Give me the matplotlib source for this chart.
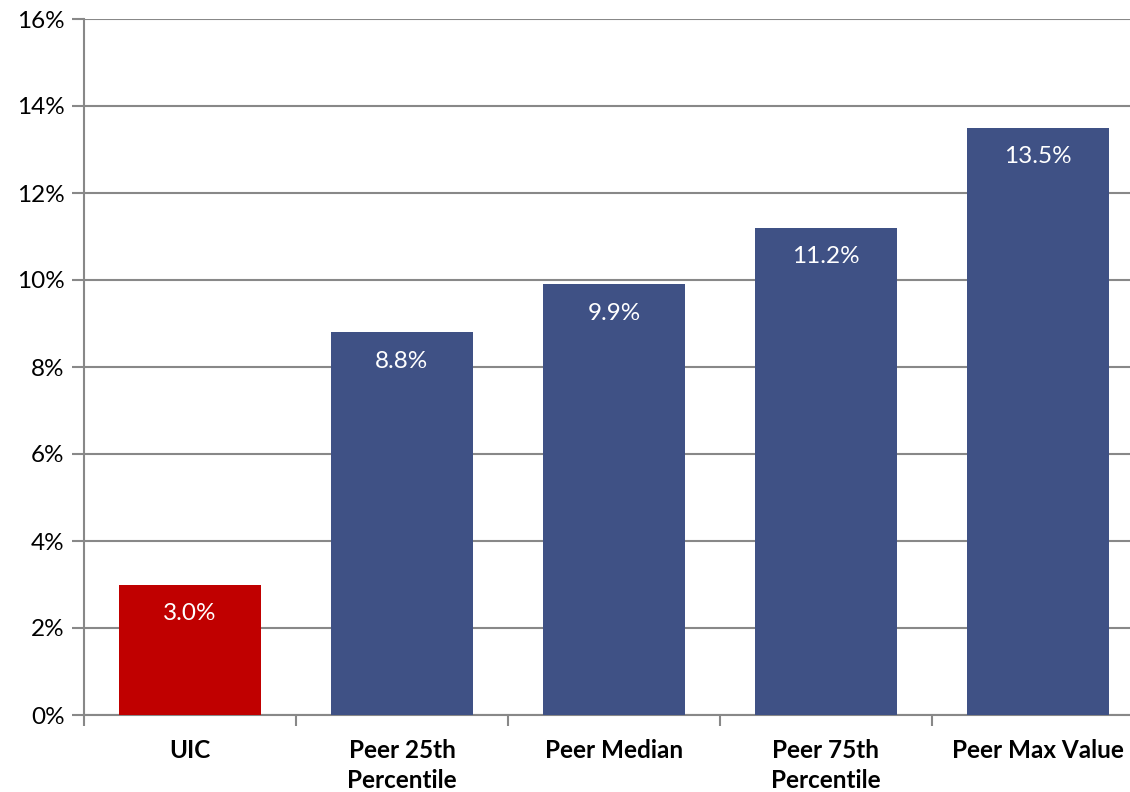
import matplotlib
matplotlib.use("Agg")
import matplotlib.pyplot as plt
from matplotlib.ticker import FixedLocator, FuncFormatter

categories = ["UIC", "Peer 25th\nPercentile", "Peer Median", "Peer 75th\nPercentile", "Peer Max Value"]
values = [3.0, 8.8, 9.9, 11.2, 13.5]
labels = ["3.0%", "8.8%", "9.9%", "11.2%", "13.5%"]
colors = ["#C00000", "#3F5185", "#3F5185", "#3F5185", "#3F5185"]
yticks = [0, 2, 4, 6, 8, 10, 12, 14, 16]

plt.rcParams['font.family'] = ['Lato', 'DejaVu Sans']
FS = 17.5

fig = plt.figure(figsize=(11.3, 7.92), dpi=100)
ax = fig.add_axes([84/1130, 1-715/792, 1060/1130, (715-19)/792])

x = list(range(len(categories)))
bars = ax.bar(x, values, width=0.67, color=colors, zorder=3)
for xi, v, lab in zip(x, values, labels):
    ax.annotate(lab, (xi, v), xytext=(0, -21), textcoords="offset points",
                ha="center", va="center", color="white", fontsize=FS, zorder=4)

ax.set_xlim(-0.5, len(categories) - 0.5)
ax.set_ylim(0, 16)
ax.set_yticks(yticks)
ax.yaxis.set_major_formatter(FuncFormatter(lambda v, p: f"{int(v)}%"))
ax.set_xticks(x)
ax.set_xticklabels(categories, fontweight="bold", fontsize=FS, linespacing=1.4)
ax.xaxis.set_minor_locator(FixedLocator([i - 0.5 for i in range(len(categories) + 1)]))
ax.tick_params(axis="x", which="major", length=0, pad=17)
ax.tick_params(axis="x", which="minor", length=8, width=1.5, color="#888888", direction="out")
ax.tick_params(axis="y", length=9, width=1.5, color="#888888", labelsize=FS, pad=5)
for t in ax.get_xticklabels():
    t.set_verticalalignment("top")
ax.grid(axis="y", color="#888888", linewidth=1.5, zorder=0)
ax.set_axisbelow(True)
for s in ["top", "right"]:
    ax.spines[s].set_visible(False)
for s in ["left", "bottom"]:
    ax.spines[s].set_color("#888888")
    ax.spines[s].set_linewidth(1.5)

fig.savefig("out.png", dpi=100)
